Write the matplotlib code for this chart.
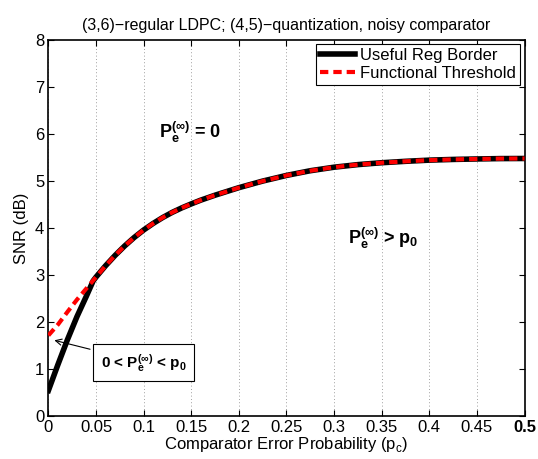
import matplotlib
matplotlib.use("Agg")
import matplotlib.pyplot as plt

plt.rcParams['font.family'] = ['Liberation Sans', 'DejaVu Sans']
plt.rcParams['mathtext.fontset'] = 'custom'
plt.rcParams['mathtext.rm'] = 'Liberation Sans'
plt.rcParams['mathtext.bf'] = 'Liberation Sans:bold'

# common part of both curves (pc >= 0.05)
pc_common = [0.05, 0.06, 0.07, 0.08, 0.09, 0.10, 0.11, 0.12, 0.13, 0.14, 0.15,
             0.16, 0.175, 0.20, 0.225, 0.25, 0.275, 0.30, 0.325, 0.35, 0.375,
             0.40, 0.425, 0.45, 0.475, 0.50]
snr_common = [2.96, 3.2, 3.42, 3.62, 3.8, 3.96, 4.1, 4.225, 4.335, 4.43, 4.515,
              4.595, 4.7, 4.86, 5.0, 5.12, 5.22, 5.295, 5.35, 5.39, 5.42,
              5.445, 5.46, 5.47, 5.478, 5.48]

# low-pc part, functional threshold (red dashed)
pc_thr_low = [0.0, 0.01, 0.02, 0.03, 0.04]
snr_thr_low = [1.72, 1.95, 2.22, 2.48, 2.72]

# low-pc part, useful region border (black)
pc_reg_low = [0.0, 0.01, 0.02, 0.03, 0.04, 0.047]
snr_reg_low = [0.55, 1.1, 1.63, 2.12, 2.56, 2.88]

xticks = [0, 0.05, 0.1, 0.15, 0.2, 0.25, 0.3, 0.35, 0.4, 0.45, 0.5]
xticklabels = ['0', '0.05', '0.1', '0.15', '0.2', '0.25', '0.3', '0.35', '0.4', '0.45', '0.5']

fig = plt.figure(figsize=(5.38, 4.59), dpi=100)
ax = fig.add_axes([0.090, 0.093, 0.885, 0.820])

ax.plot(pc_reg_low + pc_common, snr_reg_low + snr_common, color='black', lw=4,
        label='Useful Reg Border', zorder=3)
ax.plot(pc_thr_low + pc_common, snr_thr_low + snr_common, color='red', lw=3,
        ls=(0, (2, 1.2)), label='Functional Threshold', zorder=4)

ax.set_xlim(0, 0.5)
ax.set_ylim(0, 8)
ax.set_xticks(xticks)
ax.set_xticklabels(xticklabels)
ax.get_xticklabels()[-1].set_fontweight('bold')
ax.set_yticks(range(0, 9))
ax.tick_params(direction='in', top=True, right=True, labelsize=12, length=4, pad=3)
ax.xaxis.grid(True, color='gray', linestyle=(0, (1, 3)), lw=0.6)
for s in ax.spines.values():
    s.set_linewidth(1.2)

ax.set_xlabel('Comparator Error Probability (p$_\\mathregular{c}$)', fontsize=12, labelpad=0)
ax.set_ylabel('SNR (dB)', fontsize=12, labelpad=4)
ax.set_title('(3,6)\u2212regular LDPC; (4,5)\u2212quantization, noisy comparator',
             fontsize=11.5, pad=7)

ax.text(0.116, 5.92, r'$\mathbf{P_e^{(\infty)}}$ = 0', fontsize=13, fontweight='bold')
ax.text(0.315, 3.67, r'$\mathbf{P_e^{(\infty)}}$ > $\mathbf{p_0}$', fontsize=13, fontweight='bold')
ax.annotate(r'0 < $\mathbf{P_e^{(\infty)}}$ < $\mathbf{p_0}$', xy=(0.0034, 1.63), xytext=(0.055, 1.14),
            fontsize=11, fontweight='bold', va='center',
            bbox=dict(boxstyle='square,pad=0.5', fc='white', ec='black', lw=0.8),
            arrowprops=dict(arrowstyle='->', color='black', lw=0.8))

leg = ax.legend(loc='upper right', fontsize=12, framealpha=1, fancybox=False,
                edgecolor='black', borderpad=0.25, handlelength=2.1, handletextpad=0.3,
                labelspacing=0.15, borderaxespad=0.25)
leg.get_frame().set_linewidth(0.8)

fig.savefig('out.png', dpi=100)
